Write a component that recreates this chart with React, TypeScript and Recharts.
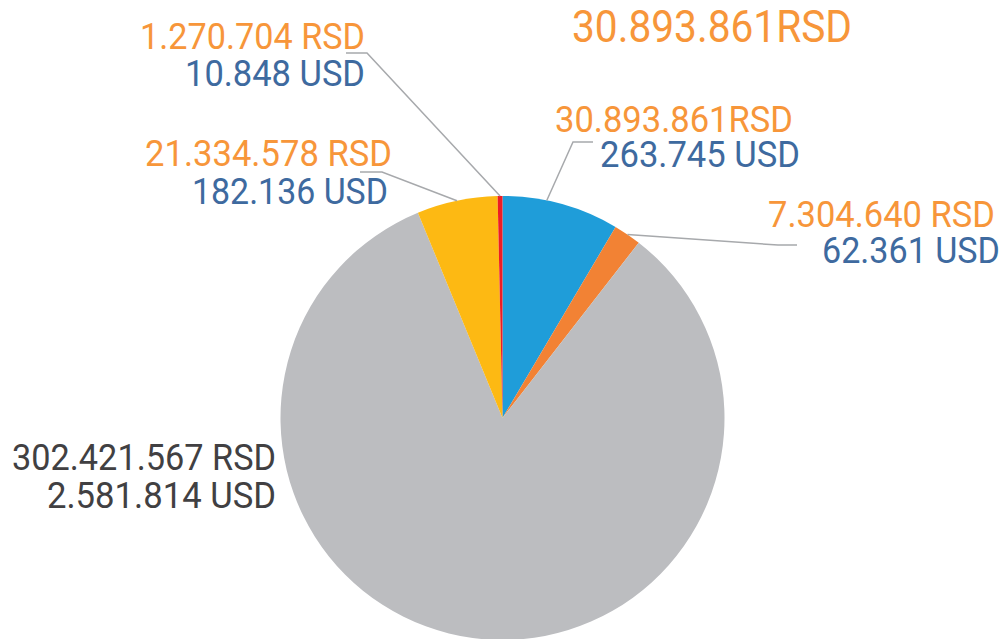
import { PieChart, Pie, Cell } from 'recharts';

const sliceNames = ['blue', 'orange', 'gray', 'yellow', 'red'];
const rsdValues = [30893861, 7304640, 302421567, 21334578, 1270704];
const rsdLabels = ['30.893.861RSD', '7.304.640 RSD', '302.421.567 RSD', '21.334.578 RSD', '1.270.704 RSD'];
const usdLabels = ['263.745 USD', '62.361 USD', '2.581.814 USD', '182.136 USD', '10.848 USD'];
const totalLabel = '30.893.861RSD';

const SLICE_COLORS = ['#1F9DD9', '#F28234', '#BCBDC0', '#FDB913', '#ED1C24'];
const RSD_COLOR = '#F7963A';
const USD_COLOR = '#3E6A9F';
const DARK_TEXT = '#414042';
const LEADER = '#A7A9AC';
const FONT = 'Roboto, "DejaVu Sans", sans-serif';
const RADIAN = Math.PI / 180;

const data = sliceNames.map((name, i) => ({ name, value: rsdValues[i] }));

// callout placement: leader elbow/end, then the two text lines (right-aligned x, baseline y, width)
type Layout = {
  edgeAngle?: number;
  path?: [number, number][];
  rsd: [number, number, number];
  usd: [number, number, number];
  dark?: boolean;
};
const LAYOUT: Layout[] = [
  { edgeAngle: 78.5, path: [[573, 142], [593, 142]], rsd: [793, 132, 238], usd: [800, 167, 200] },
  { path: [[778, 245], [797, 245]], rsd: [995, 227, 227], usd: [1000, 263, 178] },
  { rsd: [276, 470, 264], usd: [276, 508, 229], dark: true },
  { path: [[382, 172], [360, 172]], rsd: [392, 166, 247], usd: [388, 204, 196] },
  { path: [[367, 53], [346, 53]], rsd: [365, 49, 225], usd: [365, 86, 180] },
];

const renderLabel = (props: any) => {
  const { cx, cy, midAngle, outerRadius, index } = props;
  const l = LAYOUT[index];
  const a = (l.edgeAngle ?? midAngle) * RADIAN;
  const sx = cx + outerRadius * Math.cos(-a);
  const sy = cy + outerRadius * Math.sin(-a);
  const pts = l.path ? [[sx, sy], ...l.path] : null;
  return (
    <g key={`lbl-${index}`}>
      {pts && (
        <polyline
          points={pts.map((p) => p.join(',')).join(' ')}
          fill="none"
          stroke={LEADER}
          strokeWidth={1.5}
        />
      )}
      <text x={l.rsd[0]} y={l.rsd[1]} textAnchor="end" fontFamily={FONT} fontSize={36}
        textLength={l.rsd[2]} lengthAdjust="spacingAndGlyphs"
        fill={l.dark ? DARK_TEXT : RSD_COLOR}>
        {rsdLabels[index]}
      </text>
      <text x={l.usd[0]} y={l.usd[1]} textAnchor="end" fontFamily={FONT} fontSize={36}
        textLength={l.usd[2]} lengthAdjust="spacingAndGlyphs"
        fill={l.dark ? DARK_TEXT : USD_COLOR}>
        {usdLabels[index]}
      </text>
    </g>
  );
};

export default function App() {
  return (
    <div style={{ position: 'relative', width: 1008, height: 639, background: '#fff', overflow: 'hidden' }}>
      <style>{'body{margin:0}'}</style>
      <PieChart width={1008} height={639} margin={{ top: 0, right: 0, bottom: 0, left: 0 }}>
        <Pie
          data={data}
          dataKey="value"
          cx={502.5}
          cy={418}
          outerRadius={222}
          startAngle={90}
          endAngle={-270}
          stroke="none"
          label={renderLabel}
          labelLine={false}
          isAnimationActive={false}
        >
          {data.map((entry, i) => (
            <Cell key={entry.name} fill={SLICE_COLORS[i]} />
          ))}
        </Pie>
      </PieChart>
      <svg width={1008} height={639} style={{ position: 'absolute', left: 0, top: 0, pointerEvents: 'none' }}>
        <text x={572} y={42} fontFamily={FONT} fontSize={44} textLength={280} lengthAdjust="spacingAndGlyphs"
          fill={RSD_COLOR}>
          {totalLabel}
        </text>
      </svg>
    </div>
  );
}
